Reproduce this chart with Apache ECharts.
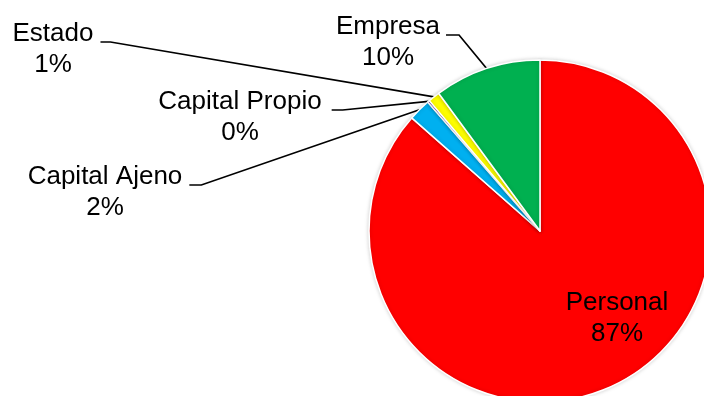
<!DOCTYPE html>
<html>
<head>
<meta charset="utf-8">
<script src="https://cdn.jsdelivr.net/npm/echarts@6/dist/echarts.min.js"></script>
<style>
  html, body { margin: 0; padding: 0; background: #fff; }
  #chart { width: 704px; height: 396px; }
</style>
</head>
<body>
<div id="chart"></div>
<script>
// slices, clockwise from 12 o'clock
const categories = ["Personal", "Capital Ajeno", "Capital Propio", "Estado", "Empresa"];
const shares = [86.5, 2.1, 0.2, 1.1, 10.1];
const colors = ["#FF0000", "#00B0F0", "#7030A0", "#FFFF00", "#00B050"];

// where each label block is centred
const labelSpots = [[617, 318], [105, 192], [240, 117], [53, 49], [388, 42]];
const lineGap = [0, 7, 10, 7, 6];
const lineRun = [0, 12, 11, 10, 13];

const chart = echarts.init(document.getElementById("chart"));

const option = {
  animation: false,
  series: [
    {
      type: "pie",
      center: [540, 231],
      radius: 171,
      startAngle: 90,
      clockwise: true,
      avoidLabelOverlap: false,
      itemStyle: {
        borderColor: "#fff",
        borderWidth: 1.5,
        shadowBlur: 4,
        shadowColor: "rgba(0,0,0,0.18)",
      },
      label: {
        show: true,
        position: "outside",
        color: "#000",
        fontFamily: "Liberation Sans, Arial, sans-serif",
        fontSize: 26,
        lineHeight: 31,
        align: "center",
        formatter: (p) => p.name + "\n" + Math.round(p.percent) + "%",
      },
      labelLine: {
        show: true,
        lineStyle: { color: "#000", width: 1.7 },
      },
      labelLayout: function (p) {
        const s = labelSpots[p.dataIndex];
        const out = { x: s[0], y: s[1], align: "center", verticalAlign: "middle" };
        if (p.dataIndex > 0 && p.labelLinePoints) {
          const right = s[0] + p.labelRect.width / 2;
          const ly = s[1] - 7;
          const a = p.labelLinePoints[0];
          out.labelLinePoints = [
            [a[0], a[1]],
            [right + lineGap[p.dataIndex] + lineRun[p.dataIndex], ly],
            [right + lineGap[p.dataIndex], ly],
          ];
        }
        return out;
      },
      data: categories.map((name, i) => ({
        name: name,
        value: shares[i],
        itemStyle: { color: colors[i] },
        labelLine: { show: i > 0 },
      })),
    },
  ],
};

chart.setOption(option);
</script>
</body>
</html>
